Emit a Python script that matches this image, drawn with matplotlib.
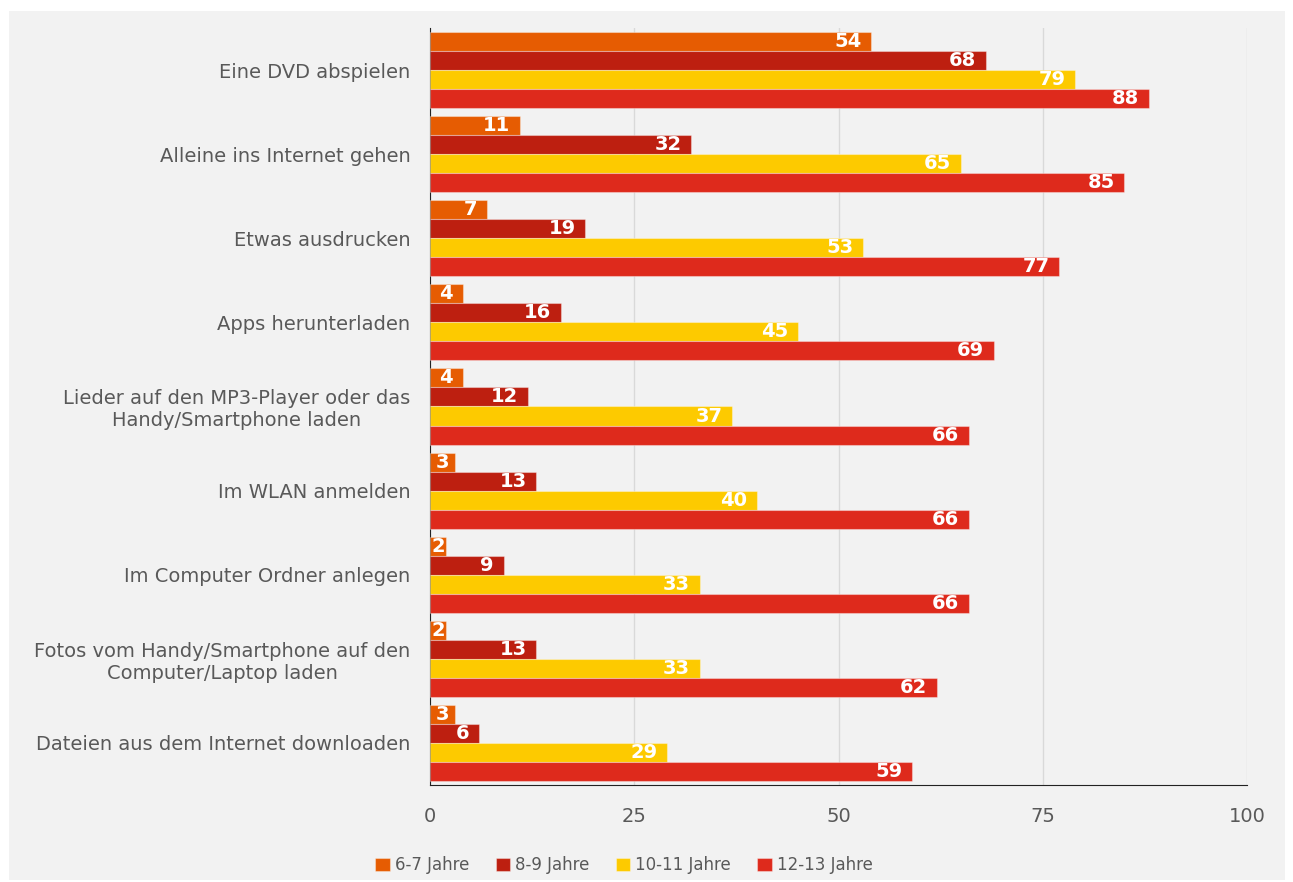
import numpy as np
import matplotlib.pyplot as plt
from matplotlib.patches import Rectangle

# Data ----------------------------------------------------------------------------------------------------------------

categories = [
    "Eine DVD abspielen",
    "Alleine ins Internet gehen",
    "Etwas ausdrucken",
    "Apps herunterladen",
    "Lieder auf den MP3-Player oder das\nHandy/Smartphone laden",
    "Im WLAN anmelden",
    "Im Computer Ordner anlegen",
    "Fotos vom Handy/Smartphone auf den\nComputer/Laptop laden",
    "Dateien aus dem Internet downloaden",
]
series_names = ["6-7 Jahre", "8-9 Jahre", "10-11 Jahre", "12-13 Jahre"]
age_6_7 = [54, 11, 7, 4, 4, 3, 2, 2, 3]
age_8_9 = [68, 32, 19, 16, 12, 13, 9, 13, 6]
age_10_11 = [79, 65, 53, 45, 37, 40, 33, 33, 29]
age_12_13 = [88, 85, 77, 69, 66, 66, 66, 62, 59]
x_ticks = [0, 25, 50, 75, 100]

colors = ["#e65c02", "#bd1f10", "#fdca00", "#de2a1c"]
text_gray = "#595959"

# Plot ----------------------------------------------------------------------------------------------------------------

fig = plt.figure(figsize=(12.93, 8.82), dpi=100, facecolor="white")
fig.add_artist(Rectangle((9 / 1293, 1 - 880 / 882), (1285 - 9) / 1293, (880 - 11) / 882,
                         transform=fig.transFigure, facecolor="#f2f2f2", edgecolor="none", zorder=-10))

ax = fig.add_axes([430 / 1293, 1 - 785 / 882, (1247 - 430) / 1293, (785 - 28) / 882])
ax.set_facecolor("#f2f2f2")

y = np.arange(len(categories))
bar_h = 0.226
all_series = [age_6_7, age_8_9, age_10_11, age_12_13]

for k, (vals, name, col) in enumerate(zip(all_series, series_names, colors)):
    pos = y + (k - 1.5) * bar_h
    bars = ax.barh(pos, vals, height=bar_h, color=col, label=name,
                   edgecolor=(1, 1, 1, 0.35), linewidth=0.8, zorder=3)
    for b, v in zip(bars, vals):
        yc = b.get_y() + b.get_height() / 2
        if v < 5:
            # too short for an end label: centre it in the bar
            ax.annotate(str(v), (v / 2, yc), ha="center", va="center", color="white",
                        fontsize=14, fontweight="bold", zorder=4)
        else:
            ax.annotate(str(v), (v, yc), xytext=(-7, 0), textcoords="offset points",
                        ha="right", va="center", color="white",
                        fontsize=14, fontweight="bold", zorder=4)

ax.set_ylim(len(categories) - 0.5, -0.5)
ax.set_xlim(0, 100)
ax.set_xticks(x_ticks)
ax.set_yticks(y)
ax.set_yticklabels(categories, multialignment="center")
ax.tick_params(axis="both", length=0, labelsize=14, labelcolor=text_gray)
ax.tick_params(axis="y", pad=14)
ax.tick_params(axis="x", pad=16)

ax.grid(axis="x", color="#d9d9d9", linewidth=1, zorder=0)
for side in ["top", "right"]:
    ax.spines[side].set_visible(False)
ax.spines["left"].set_color("#222222")
ax.spines["bottom"].set_color("#222222")

leg = fig.legend(loc="center", bbox_to_anchor=(624 / 1293, 1 - 865 / 882), ncol=4,
                 frameon=False, fontsize=12, handlelength=0.85, handleheight=0.85,
                 handletextpad=0.3, columnspacing=1.6)
for t in leg.get_texts():
    t.set_color(text_gray)

fig.savefig("out.png", dpi=100, facecolor="white")
